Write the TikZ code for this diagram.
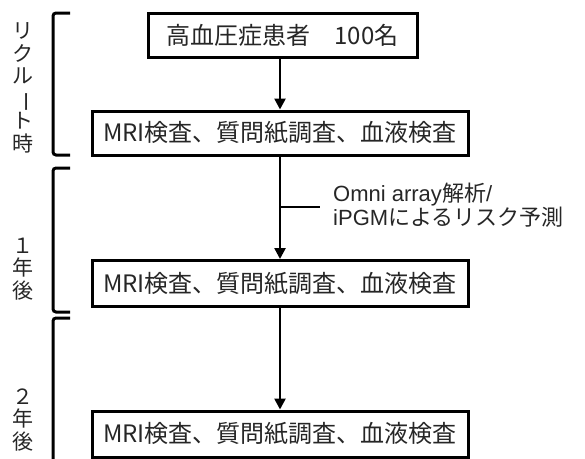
\documentclass[tikz,border=0pt]{standalone}
\usepackage{fontspec}
\usepackage{graphicx}
\setmainfont{Liberation Sans}
\newfontfamily\jp{Noto Sans CJK JP}
\usetikzlibrary{arrows.meta}
\tikzset{
  box/.style={draw=black, line width=3pt, fill=white, inner sep=0pt, font=\jp\fontsize{24}{26}\selectfont, text=black!85},
  flow/.style={line width=2.5pt, -{Triangle[length=11pt,width=11pt]}},
  brak/.style={line width=3pt, rounded corners=3pt},
  side/.style={inner sep=0pt, align=center, font=\jp\fontsize{21}{22.5}\selectfont, text=black!85},
  note/.style={inner sep=0pt, align=left, anchor=west, font=\fontsize{22}{23}\selectfont, text=black!85}
}
\begin{document}
\begin{tikzpicture}[x=1pt, y=-1pt]
\useasboundingbox (0,0) rectangle (585,458);
% boxes
\node[box, minimum width=269pt, minimum height=44pt] (b1) at (282.5,35) {高血圧症患者　100名};
\node[box, minimum width=376pt, minimum height=44pt] (b2) at (280,133) {MRI検査、質問紙調査、血液検査};
\node[box, minimum width=376pt, minimum height=46pt] (b3) at (280,283.5) {MRI検査、質問紙調査、血液検査};
\node[box, minimum width=376pt, minimum height=46pt] (b4) at (280,434) {MRI検査、質問紙調査、血液検査};
% arrows
\draw[flow] (b1.south -| b2.north) -- (b2.north);
\draw[flow] (b2.south) -- (b3.north);
\draw[flow] (b3.south) -- (b4.north);
% side note
\coordinate (tap) at (280,207);
\coordinate (tapend) at (320,207);
\draw[line width=2.5pt] (tap) -- (tapend);
\node[note] (lab) at (333,205) {Omni array{\jp 解析}/\\iPGM{\jp によるリスク予測}};
% brackets
\draw[brak] (70,13) -- (53,13) -- (53,155) -- (70,155);
\draw[brak] (70,168) -- (53,168) -- (53,312) -- (70,312);
\draw[brak] (70,318) -- (53,318) -- (53,470);
% period labels
\node[side] (p1) at (23,88) {リ\\ク\\ル\\\rotatebox[origin=c]{-90}{ー}\\ト\\時};
\node[side] (p2) at (23,269) {１\\年\\後};
\node[side] (p3) at (23,420) {２\\年\\後};
\end{tikzpicture}
\end{document}
